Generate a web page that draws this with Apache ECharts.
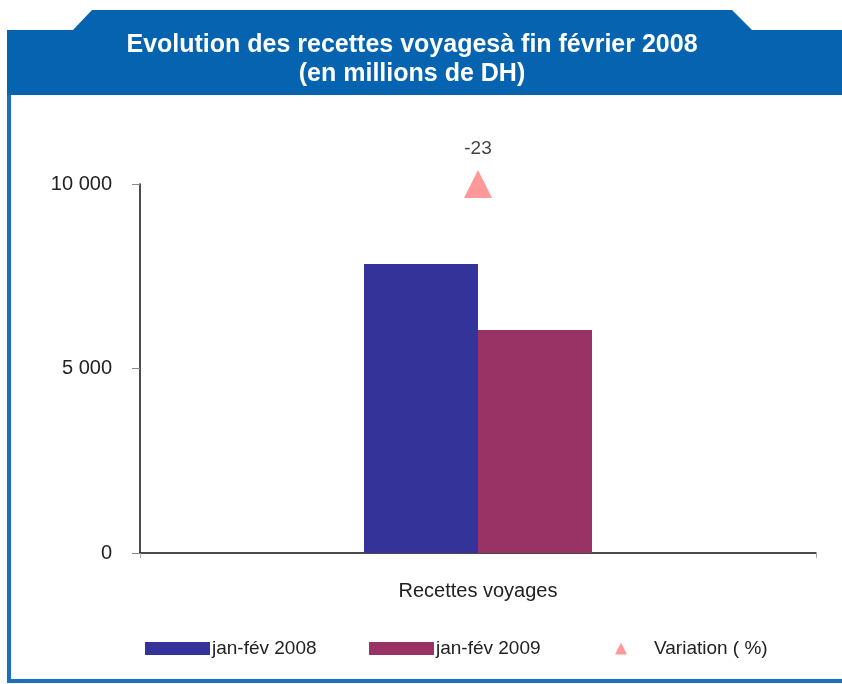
<!DOCTYPE html>
<html>
<head>
<meta charset="utf-8">
<script src="https://cdn.jsdelivr.net/npm/echarts@6/dist/echarts.min.js"></script>
<style>
  html, body { margin: 0; padding: 0; background: #fff; }
</style>
</head>
<body>
<div id="main" style="width: 842px; height: 684px;"></div>
<script>
// data
var categories = ['Recettes voyages'];
var recettes2008 = [7830];
var recettes2009 = [6040];
var variation = [-23];
// the variation marker sits on the 10 000 line
var variationLevel = [10000];
var yTicks = [0, 5000, 10000];

var chartDom = document.getElementById('main');
var myChart = echarts.init(chartDom);
var option;

var fontFamily = 'Liberation Sans, Arial, sans-serif';

function fmt(v) {
    return String(v).replace(/\B(?=(\d{3})+(?!\d))/g, ' ');
}

option = {
    animation: false,
    backgroundColor: '#fff',
    graphic: [
        {
            type: 'polygon',
            shape: {
                points: [[7, 95], [7, 30], [73, 30], [92, 10], [732, 10], [752, 30], [842, 30], [842, 95]]
            },
            style: { fill: '#0563b0' },
            z: 0
        },
        {
            type: 'polyline',
            shape: { points: [[9, 95], [9, 681], [842, 681]] },
            style: { stroke: '#1c6fbe', lineWidth: 4, fill: null },
            z: 0
        }
    ],
    title: {
        text: 'Evolution des recettes voyagesà fin février 2008\n(en millions de DH)',
        left: 407,
        top: 26,
        textAlign: 'center',
        textStyle: {
            color: '#fff',
            fontFamily: fontFamily,
            fontWeight: 'bold',
            fontSize: 25,
            lineHeight: 29
        },
        z: 5
    },
    legend: [
        {
            data: ['jan-fév 2008'],
            left: 140,
            top: 634,
            icon: 'rect',
            itemWidth: 65,
            itemHeight: 13,
            textStyle: { fontFamily: fontFamily, fontSize: 19, color: '#222', padding: [0, 0, 0, -3] }
        },
        {
            data: ['jan-fév 2009'],
            left: 364,
            top: 634,
            icon: 'rect',
            itemWidth: 65,
            itemHeight: 13,
            textStyle: { fontFamily: fontFamily, fontSize: 19, color: '#222', padding: [0, 0, 0, -3] }
        },
        {
            data: ['Variation ( %)'],
            left: 610,
            top: 634,
            itemWidth: 12,
            itemHeight: 12,
            textStyle: { fontFamily: fontFamily, fontSize: 19, color: '#222', padding: [0, 0, 0, 22] }
        }
    ],
    grid: {
        left: 140,
        right: 26,
        top: 184,
        bottom: 131
    },
    xAxis: {
        type: 'category',
        data: categories,
        axisLine: { lineStyle: { color: '#111', width: 1.5 } },
        axisTick: { show: true, length: 5, lineStyle: { color: '#aaa' } },
        axisLabel: {
            margin: 28,
            fontFamily: fontFamily,
            fontSize: 20,
            color: '#222'
        }
    },
    yAxis: {
        type: 'value',
        min: 0,
        max: 10000,
        interval: 5000,
        splitLine: { show: false },
        axisLine: { show: true, lineStyle: { color: '#111', width: 1.5 } },
        axisTick: { show: true, length: 8, lineStyle: { color: '#888' } },
        axisLabel: {
            margin: 28,
            fontFamily: fontFamily,
            fontSize: 20,
            color: '#222',
            formatter: function (v) {
                return yTicks.indexOf(v) >= 0 ? fmt(v) : '';
            }
        }
    },
    series: [
        {
            name: 'jan-fév 2008',
            type: 'bar',
            barWidth: 114,
            barGap: '0%',
            itemStyle: { color: '#333399' },
            data: recettes2008
        },
        {
            name: 'jan-fév 2009',
            type: 'bar',
            barWidth: 114,
            barGap: '0%',
            itemStyle: { color: '#993366' },
            data: recettes2009
        },
        {
            name: 'Variation ( %)',
            type: 'scatter',
            symbol: 'triangle',
            symbolSize: 28,
            clip: false,
            itemStyle: { color: '#ff8080' },
            label: {
                show: true,
                position: 'top',
                distance: 12,
                fontFamily: fontFamily,
                fontSize: 19,
                color: '#111',
                formatter: function (p) {
                    return variation[p.dataIndex];
                }
            },
            data: variationLevel.map(function (v, i) { return [categories[i], v]; }),
            z: 4
        }
    ]
};

option && myChart.setOption(option);
</script>
</body>
</html>
